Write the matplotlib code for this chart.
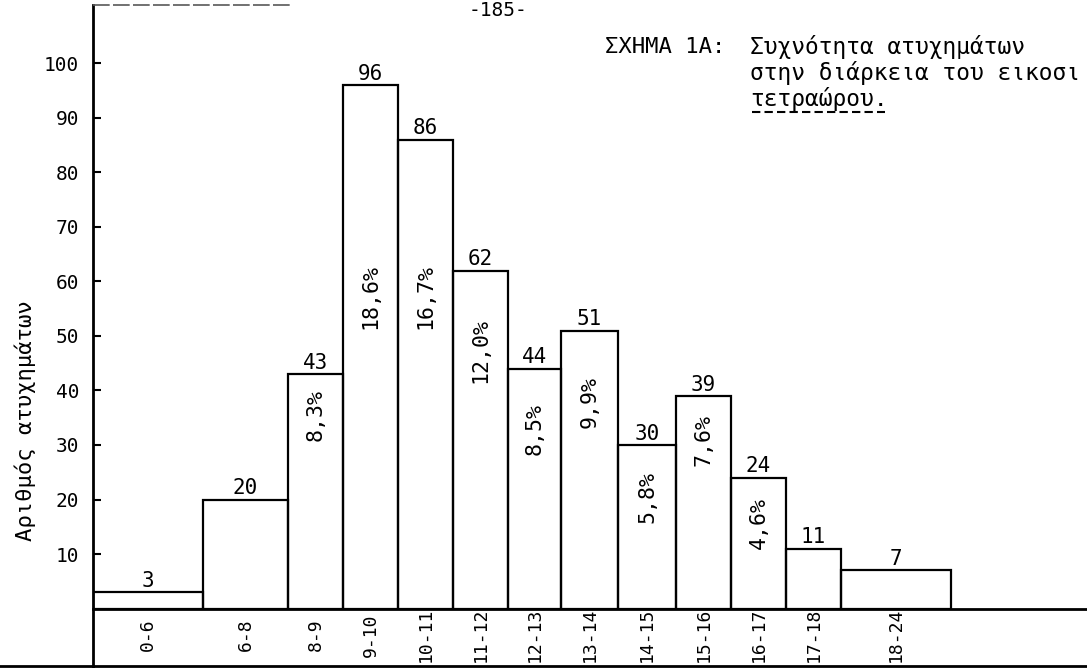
"""
Typewritten histogram: accidents per hour of the day (ΣΧΗΜΑ 1Α)
"""

import matplotlib
matplotlib.use('Agg')
import matplotlib.pyplot as plt
import numpy as np
from matplotlib.lines import Line2D

FONT = 'DejaVu Sans Mono'

# data
hours = ['0-6', '6-8', '8-9', '9-10', '10-11', '11-12', '12-13',
         '13-14', '14-15', '15-16', '16-17', '17-18', '18-24']
counts = [3, 20, 43, 96, 86, 62, 44, 51, 30, 39, 24, 11, 7]
percents = ['', '', '8,3%', '18,6%', '16,7%', '12,0%', '8,5%',
            '9,9%', '5,8%', '7,6%', '4,6%', '', '']
# class widths as drawn on the page (one hour ~ 1 unit)
widths = [2, 1.55, 1, 1, 1, 1, 0.95, 1.05, 1.05, 1, 1, 1, 2]

# where the typist put the percentages inside the bars
pct_y = [0, 0, 35.5, 57.3, 57.3, 47.4, 33, 37.9, 20.5, 31, 15.7, 0, 0]

W, H = 1087, 668
fig = plt.figure(figsize=(W / 100, H / 100), dpi=100, facecolor='white')
ax = fig.add_axes([93 / W, 59.5 / H, 994 / W, 603.5 / H])

lefts = np.concatenate([[0], np.cumsum(widths)[:-1]])
centers = lefts + np.array(widths) / 2

ax.bar(lefts, counts, width=widths, align='edge', fill=False,
       edgecolor='black', linewidth=1.6)

for x, c in zip(centers, counts):
  ax.annotate(str(c), (x, c), xytext=(0, 1), textcoords='offset points',
              ha='center', va='bottom', fontsize=15, family=FONT)

for x, p, y in zip(centers, percents, pct_y):
  if p:
    ax.text(x, y, p, rotation=90, ha='center', va='center',
            fontsize=15.5, family=FONT)

ax.set_xlim(0, 994 / 55)
ax.set_ylim(0, 603.5 / 5.45)

ax.set_yticks(range(10, 101, 10))
ax.tick_params(axis='y', direction='in', length=6, width=1.5, pad=10,
               labelsize=14)
ax.set_xticks(centers, hours, rotation=90)
ax.tick_params(axis='x', length=0, pad=19, labelsize=13)
for lbl in ax.get_xticklabels() + ax.get_yticklabels():
  lbl.set_family(FONT)
for lbl in ax.get_xticklabels():
  lbl.set_va('center')

for side in ('top', 'right', 'left'):
  ax.spines[side].set_visible(False)
ax.spines['bottom'].set_linewidth(2)

ax.set_ylabel('Αριθμός ατυχημάτων', fontsize=16, family=FONT, va='center')
ax.yaxis.set_label_coords(-0.0684, 0.312)

# frame of the page: left rule, strip under the labels, faded top rule
ax.plot([0, 0], [-0.1, 1.0], transform=ax.transAxes, color='black',
        lw=2, clip_on=False)
ax.plot([-0.1, 1.0], [-0.0948, -0.0948], transform=ax.transAxes,
        color='black', lw=2, clip_on=False)
ax.plot([0, 0.2], [1.0, 1.0], transform=ax.transAxes, color='0.35',
        lw=1.2, dashes=(10, 2), clip_on=False)

# page number and figure caption
fig.text(498 / W, 1 - 1 / H, '-185-', ha='center', va='top',
         fontsize=14, family=FONT)
fig.text(605 / W, 1 - 47 / H, 'ΣΧΗΜΑ 1Α:', ha='left', va='center',
         fontsize=16, family=FONT)
caption = ['Συχνότητα ατυχημάτων', 'στην διάρκεια του εικοσι', 'τετραώρου.']
for i, line in enumerate(caption):
  fig.text(750 / W, 1 - (47 + 26 * i) / H, line, ha='left', va='center',
           fontsize=16.5, family=FONT)
fig.add_artist(Line2D([752 / W, 885 / W], [1 - 112 / H] * 2, color='black',
                      lw=1.5, dashes=(4, 2)))

fig.savefig('out.png', dpi=100, facecolor='white')
